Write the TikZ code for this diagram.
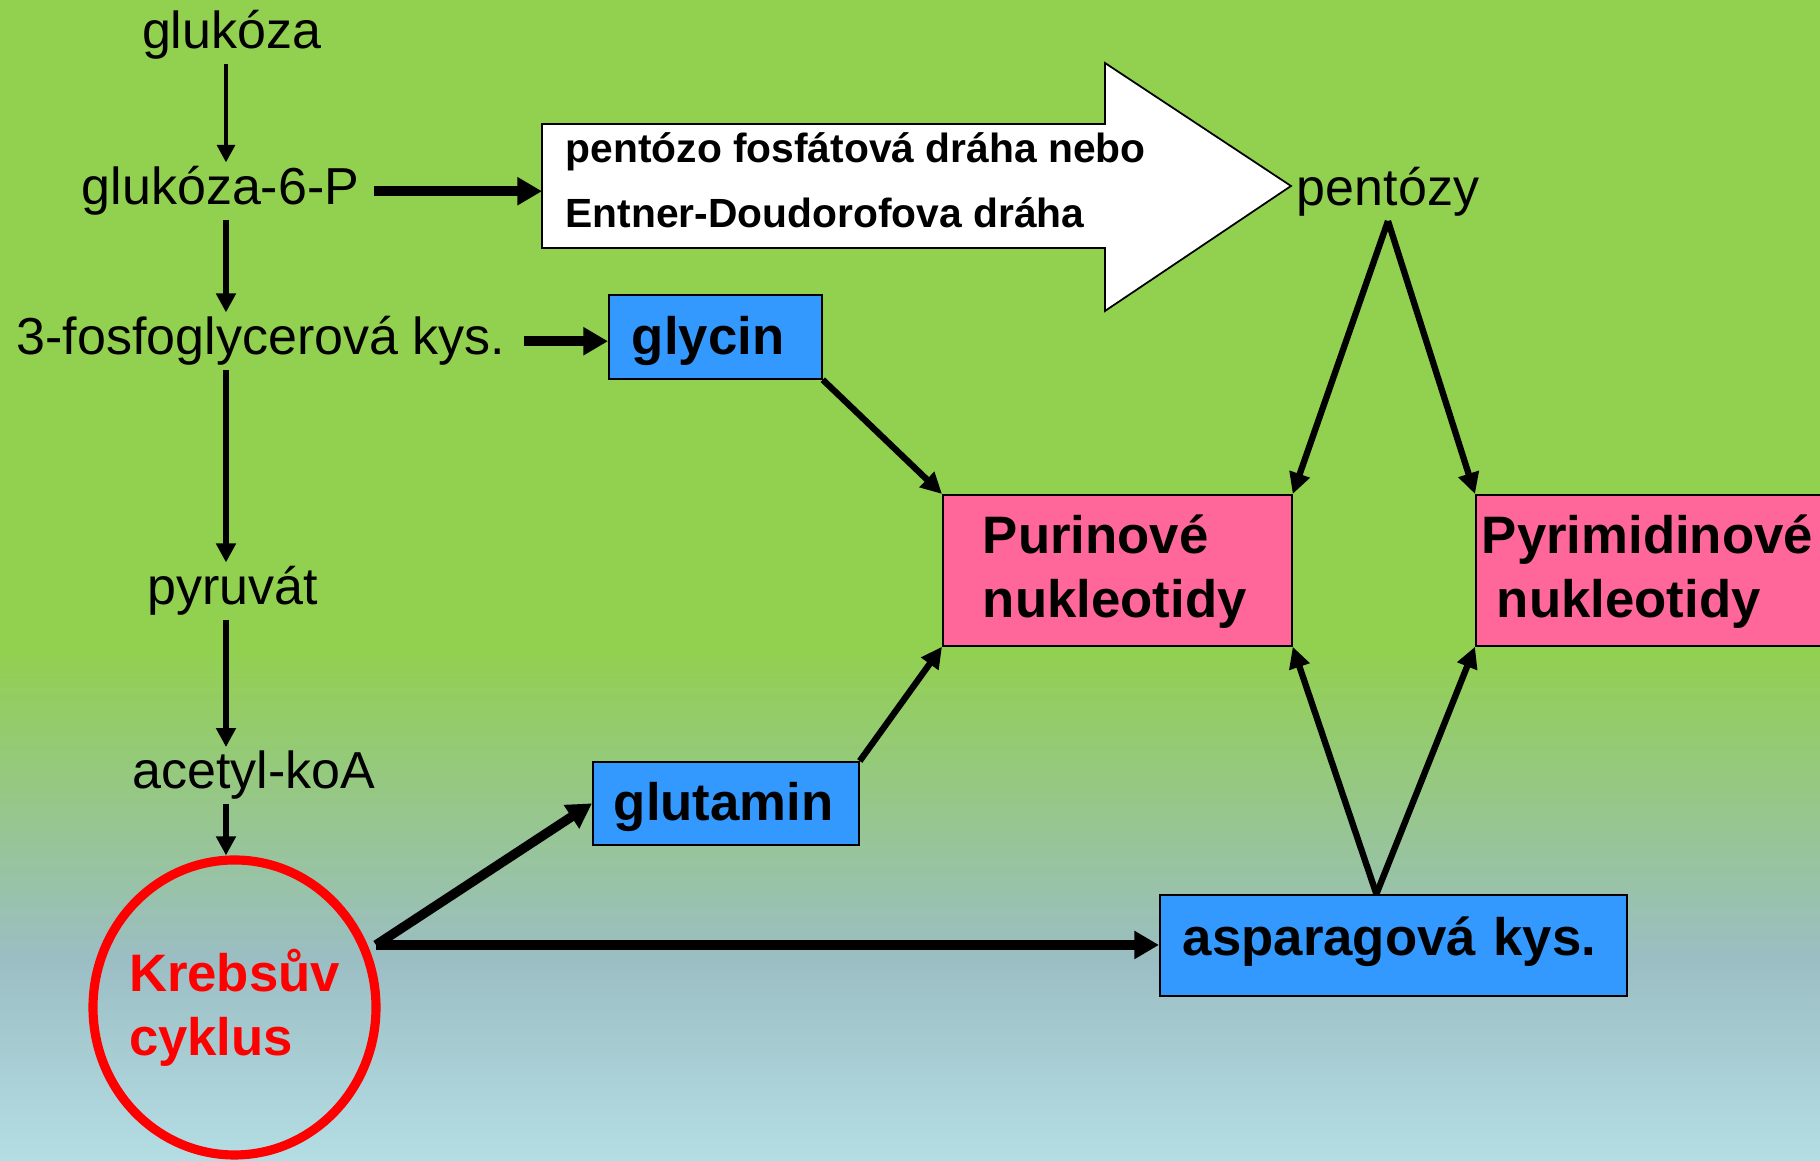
\documentclass[tikz,border=0pt]{standalone}
\usepackage{fontspec}
\setmainfont{Liberation Sans}
\usetikzlibrary{arrows.meta,calc,positioning,shapes.geometric}
\definecolor{leaf}{RGB}{146,208,80}
\definecolor{haze}{RGB}{155,190,196}
\definecolor{sky}{RGB}{180,222,228}
\definecolor{aminoblue}{RGB}{51,153,255}
\definecolor{nucpink}{RGB}{255,102,153}
\definecolor{cyclered}{RGB}{255,0,0}

\begin{document}
\begin{tikzpicture}[
  x=1cm,y=1cm,
  lbl/.style={font=\fontsize{14.8}{18}\selectfont,inner sep=1pt,anchor=base},
  box/.style={draw,line width=.5pt,anchor=north west,align=left,inner ysep=0pt,
    font=\bfseries\fontsize{15}{18.2}\selectfont},
  pwtxt/.style={font=\bfseries\fontsize{11.6}{14}\selectfont,inner sep=0pt,anchor=base west},
  ring/.style={ellipse,draw=cyclered,line width=2.6pt,inner sep=0pt,
    minimum width=2.83cm,minimum height=2.95cm},
  thinarr/.style={-{Triangle[length=5pt,width=5pt]},line width=1.2pt},
  arr/.style={-{Triangle[length=5.4pt,width=5.4pt]},line width=1.6pt},
  diag/.style={-{Triangle[length=6pt,width=5.8pt]},line width=1.8pt},
  fatarr/.style={-{Triangle[length=7pt,width=7.6pt]},line width=2.7pt}
]
\useasboundingbox (0,0) rectangle (18.2,11.61);

% background
\fill[leaf] (0,0) rectangle (18.2,11.61);
\shade[top color=leaf,bottom color=haze] (0,2.01) rectangle (18.2,5.11);
\shade[top color=haze,bottom color=sky] (0,0) rectangle (18.2,2.01);

% left column: glycolysis
\node[lbl] (glu) at (2.317,11.12) {glukóza};
\node[lbl] (g6p) at (2.205,9.56) {glukóza-6-P};
\node[lbl] (pga) at (2.61,8.06) {3-fosfoglycerová kys.};
\node[lbl] (pyr) at (2.327,5.56) {pyruvát};
\node[lbl] (acoa) at (2.54,3.72) {acetyl-koA};
\node[ring] (krebs) at (2.345,1.535) {};
\node[font=\bfseries\fontsize{15}{18.2}\selectfont,text=cyclered,align=left]
  (krebstxt) at (krebs) {Krebsův\\cyklus};

\coordinate (col) at (2.26,0);
\draw[thinarr] (glu.south -| col) -- (g6p.north -| col);
\draw[arr] (g6p.south -| col) -- (pga.north -| col);
\draw[arr] (pga.south -| col) -- (pyr.north -| col);
\draw[arr] (pyr.south -| col) -- (acoa.north -| col);
\draw[arr] (acoa.south -| col) -- (krebs.north -| col);

% pentose pathway block arrow
\draw[line width=.5pt,fill=white]
  (5.42,10.37) -- (11.05,10.37) -- (11.05,10.98) -- (12.91,9.75)
  -- (11.05,8.50) -- (11.05,9.13) -- (5.42,9.13) -- cycle;
\coordinate (pin) at (5.42,9.66);
\node[pwtxt] (pway) at (5.65,9.98) {pentózo fosfátová dráha nebo};
\node[pwtxt] (edway) at (5.65,9.33) {Entner-Doudorofova dráha};
\node[lbl] (pent) at (13.88,9.55) {pentózy};

% amino acids and nucleotides
\node[box,fill=aminoblue,text width=1.67cm,inner xsep=.23cm,minimum height=.84cm,
  text height=1em,text depth=0em] (glycin) at (6.08,8.67) {glycin};
\node[box,fill=aminoblue,text width=2.24cm,inner xsep=.21cm,minimum height=.83cm,
  text height=1em,text depth=0em] (glutamin) at (5.92,4.00) {glutamin};
\node[box,fill=aminoblue,text width=4.21cm,inner xsep=.23cm,minimum height=1.01cm,
  text height=.8em,text depth=.2em] (asp) at (11.59,2.67) {asparagová kys.};
\node[box,fill=nucpink,text width=2.69cm,inner xsep=.40cm,minimum height=1.51cm]
  (pur) at (9.42,6.67) {\rule{0pt}{.8em}Purinové\\nukleotidy};
\node[box,fill=nucpink,text width=3.43cm,inner xsep=.06cm,minimum height=1.51cm]
  (pyrim) at (14.75,6.67) {\rule{0pt}{.8em}Pyrimidinové\\\hspace*{.15cm}nukleotidy};

% connectors
\draw[fatarr,shorten <=1.1mm] (g6p.east) -- (g6p.east -| pin);
\draw[fatarr,shorten <=1.4mm] (pga.east) -- (pga.east -| glycin.west);
\coordinate (kout) at (3.76,2.16);
\draw[fatarr] (kout) -- (glutamin.west);
\draw[fatarr] (kout) -- (kout -| asp.west);

\draw[diag] (glycin.south east) -- (pur.north west);
\draw[diag] (glutamin.north east) -- (pur.south west);
\draw[diag] (pent.south) -- (pur.north east);
\draw[diag] (pent.south) -- (pyrim.north west);
\draw[diag] ([xshift=-1.7mm]asp.north) -- (pur.south east);
\draw[diag] ([xshift=-1.7mm]asp.north) -- (pyrim.south west);

\end{tikzpicture}
\end{document}
